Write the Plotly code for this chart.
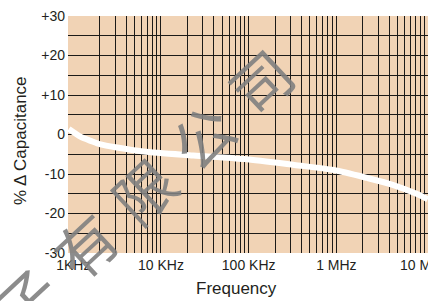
import plotly.graph_objects as go
import math

# ---- data ----
freq_hz = [890, 1220, 1580, 2050, 3160, 6300, 23400, 89000, 331000, 933000,
           2240000, 4470000, 8200000, 10000000, 11000000]
delta_cap_pct = [1.4, -0.6, -1.6, -2.5, -3.3, -4.3, -5.3, -6.2, -7.7, -9.0,
                 -11.0, -12.8, -15.0, -15.9, -16.4]

x_tick_vals = [1e3, 1e4, 1e5, 1e6, 1e7]
x_tick_text = ["1KHz", "10 KHz", "100 KHz", "1 MHz", "10 MHz"]
y_tick_vals = [-30, -20, -10, 0, 10, 20, 30]
y_tick_text = ["-30", "-20", "-10", "0", "+10", "+20", "+30"]
y_grid_vals = [-25, -20, -15, -10, -5, 0, 5, 10, 15, 20, 25]
x_grid_vals = [k * 10 ** d for d in range(3, 7) for k in range(2, 11)]

watermark = "子\u2004有\u2004限\u2004公\u2004司"

W, H = 428, 301
L, R, T, B = 68, 0, 16, 48
pw, ph = W - L - R, H - T - B

def px(xp):
    return (xp - L) / pw

def py(yp):
    return (H - B - yp) / ph

fig = go.Figure()
fig.add_trace(go.Scatter(
    x=freq_hz, y=delta_cap_pct, mode="lines",
    line=dict(color="white", width=6, shape="spline", smoothing=0.8),
    hoverinfo="skip", showlegend=False))

font_main = "Liberation Sans, Arial, sans-serif"
grid_col = "#1c1a18"

fig.update_layout(
    width=W, height=H,
    margin=dict(l=L, r=R, t=T, b=B, autoexpand=False),
    paper_bgcolor="white", plot_bgcolor="#F1D3B5",
    font=dict(family=font_main, size=14, color="#231f20"),
    xaxis=dict(type="log", range=[math.log10(871), 7.045],
               tickvals=x_tick_vals, ticktext=x_tick_text,
               showgrid=False, zeroline=False, showline=False,
               ticks="", ticklabelstandoff=2, automargin=False,
               ticklabeloverflow="allow",
               minor=dict(tickvals=x_grid_vals, showgrid=True,
                          gridcolor=grid_col, gridwidth=1, ticks="")),
    yaxis=dict(range=[-30, 30], tickvals=y_tick_vals, ticktext=y_tick_text,
               showgrid=False, zeroline=False, showline=False, ticks="",
               ticklabelstandoff=2, automargin=False,
               ticklabeloverflow="allow",
               minor=dict(tickvals=y_grid_vals, showgrid=True,
                          gridcolor=grid_col, gridwidth=1, ticks="")),
    annotations=[
        dict(text="% Δ Capacitance", xref="paper", yref="paper",
             x=px(20), y=py(141), textangle=-90, showarrow=False,
             xanchor="center", yanchor="middle",
             font=dict(size=17, family=font_main, color="#231f20")),
        dict(text="Frequency", xref="paper", yref="paper",
             x=px(236), y=py(288), showarrow=False,
             xanchor="center", yanchor="middle",
             font=dict(size=17, family=font_main, color="#231f20")),
        dict(text=watermark, xref="paper", yref="paper",
             x=px(142), y=py(189), textangle=-43, showarrow=False,
             xanchor="center", yanchor="middle",
             font=dict(size=60, family="Noto Sans CJK SC", weight=400,
                       color="rgba(128,128,128,0.9)")),
    ],
)

fig.write_html(
    "out.html",
    config={"displayModeBar": False},
    post_script="document.body.style.margin='0';"
                "document.body.style.overflow='hidden';",
)
